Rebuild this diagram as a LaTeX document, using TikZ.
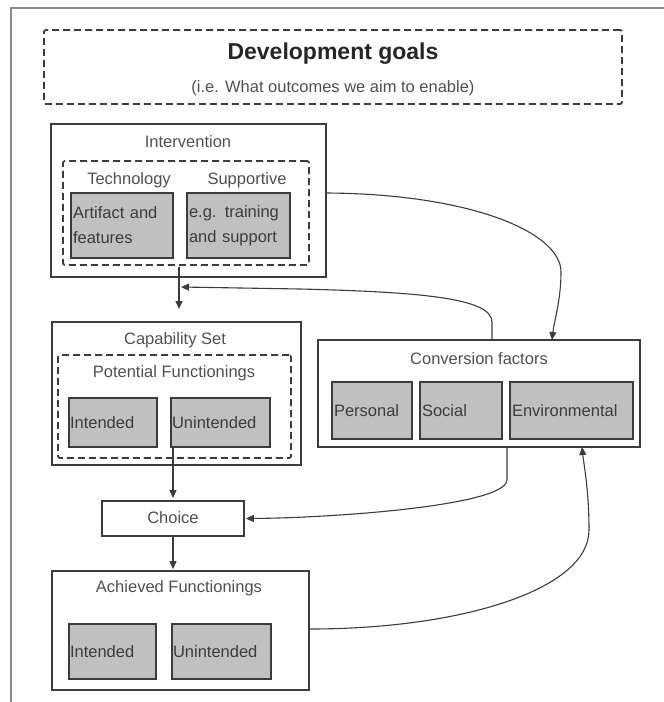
\documentclass[tikz,border=0pt]{standalone}
\usepackage{fontspec}
\setmainfont{Liberation Sans}
\usetikzlibrary{arrows.meta}
\definecolor{lineC}{HTML}{3C3C3C}
\definecolor{txtC}{HTML}{505050}
\definecolor{boxFill}{HTML}{C0C0C0}
\definecolor{frameC}{HTML}{8A8A8A}
\begin{document}
\begin{tikzpicture}[x=1pt,y=-1pt,
  every node/.style={font=\fontsize{16.5}{20}\selectfont, text=txtC},
  outerbox/.style={draw=lineC, line width=1.8pt, fill=white, inner sep=0pt},
  dashbox/.style={draw=lineC, line width=1.8pt, dash pattern=on 7pt off 4pt, rounded corners=2pt, inner sep=0pt},
  graybox/.style={draw=lineC, line width=1.4pt, fill=boxFill, inner xsep=1pt, inner ysep=0pt, align=left, text=lineC},
  lbl/.style={inner sep=0pt},
  conn/.style={draw=lineC, line width=1.1pt, -{Triangle[length=8pt,width=7pt]}},
  plain/.style={draw=lineC, line width=1.1pt}
]
\useasboundingbox (0,0) rectangle (664,702);
\fill[white] (0,0) rectangle (664,702);
% outer frame
\draw[frameC, line width=2pt] (11,702) -- (11,8) -- (664,8);

% development goals
\node[dashbox, minimum width=578, minimum height=74] (dg) at (333,67) {};
\node[lbl, font=\fontsize{23}{26}\selectfont\bfseries, text=black!85] (dgt) at (333,54) {Development goals};
\node[lbl, font=\fontsize{16.5}{18}\selectfont] (dgs) at (333,88) {(i.e. What outcomes we aim to enable)};

% intervention
\node[outerbox, minimum width=275, minimum height=153] (int) at (188.5,200.5) {};
\node[lbl] (intt) at (188,142) {Intervention};
\node[dashbox, minimum width=246, minimum height=104] (intd) at (186,213) {};
\node[lbl] (tech) at (129,180) {Technology};
\node[lbl] (supt) at (247,180) {Supportive};
\node[graybox, minimum width=102, minimum height=65, text width=98, font=\fontsize{16.5}{25}\selectfont] (art) at (122,225.5) {Artifact and\\features};
\node[graybox, minimum width=103, minimum height=65, text width=99, font=\fontsize{16.5}{25}\selectfont] (sup) at (238.5,225.5) {e.g. training\\and support};

% capability set
\node[outerbox, minimum width=249, minimum height=143] (cap) at (176.5,393.5) {};
\node[lbl] (capt) at (175,340) {Capability Set};
\node[dashbox, minimum width=233, minimum height=103] (capd) at (174.5,406.5) {};
\node[lbl] (pott) at (174,373) {Potential Functionings};
\node[graybox, minimum width=88, minimum height=49, text width=86] (capi) at (113,422.5) {Intended};
\node[graybox, minimum width=99, minimum height=49, text width=97] (capu) at (220.5,422.5) {Unintended};

% conversion factors
\node[outerbox, minimum width=322, minimum height=107] (conv) at (479,393.5) {};
\node[lbl] (convt) at (479,359) {Conversion factors};
\node[graybox, minimum width=80, minimum height=57, text width=76] (pers) at (372,410.5) {Personal};
\node[graybox, minimum width=82, minimum height=57, text width=78] (soc) at (461,410.5) {Social};
\node[graybox, minimum width=123, minimum height=57, text width=119] (env) at (571.5,410.5) {Environmental};

% choice
\node[outerbox, minimum width=142, minimum height=35] (ch) at (173,518.5) {};
\node[lbl] (cht) at (173,518) {Choice};

% achieved functionings
\node[outerbox, minimum width=257, minimum height=119] (ach) at (180.5,630.5) {};
\node[lbl] (acht) at (179,588) {Achieved Functionings};
\node[graybox, minimum width=87, minimum height=55, text width=85] (achi) at (112.5,651.5) {Intended};
\node[graybox, minimum width=99, minimum height=55, text width=97] (achu) at (221.5,651.5) {Unintended};

% connectors
\coordinate (a1) at (179,309);
\draw[conn] (int.south -| a1) ++(0,-11) -- (a1);
\coordinate (a2end) at (181,287);
\draw[conn] (conv.north -| 492,0) -- (492,322) .. controls (492,298) and (420,292) .. (300,289) -- (a2end);
\draw[conn] (int.east |- 0,193) .. controls (470,194) and (561,232) .. (561,272) .. controls (561,300) and (554,322) .. (552,340);
\draw[conn, shorten >=2pt] (capu.south -| ch.north) -- (ch.north);
\draw[conn, shorten >=1pt] (conv.south -| 507,0) -- (507,480) .. controls (506,506) and (330,518) .. (ch.east);
\draw[conn, shorten >=1pt] (ch.south) -- (ch.south |- ach.north);
\draw[conn] (ach.east |- 0,629) .. controls (460,629) and (589,590) .. (589,530) .. controls (589,490) and (584,466) .. (582,447);
\end{tikzpicture}
\end{document}
